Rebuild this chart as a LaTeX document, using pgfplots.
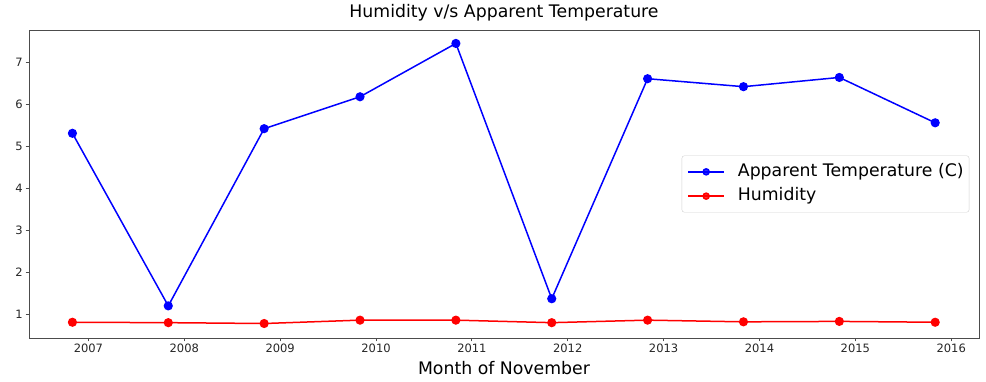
\documentclass[border=0pt]{standalone}
\usepackage{fontspec}
\setmainfont{DejaVu Sans}
\usepackage{pgfplots}
\pgfplotsset{compat=1.18}
\begin{document}
\begin{tikzpicture}
\path[use as bounding box] (-29pt,-44pt) rectangle (957pt,338pt);
\begin{axis}[
  scale only axis, width=950pt, height=308pt,
  at={(0pt,0pt)}, anchor=south west,
  xmin=2006.38, xmax=2016.29, ymin=0.445, ymax=7.78,
  xtick={2007,2008,2009,2010,2011,2012,2013,2014,2015,2016},
  xticklabels={2007,2008,2009,2010,2011,2012,2013,2014,2015,2016},
  ytick={1,2,3,4,5,6,7},
  /pgf/number format/assume math mode=true,
  tick label style={font=\fontsize{11.5}{13}\selectfont, text=black!85},
  xticklabel style={inner sep=2.5pt},
  yticklabel style={inner sep=2.5pt},
  tick align=outside, tick pos=left, major tick length=3.5pt,
  axis line style={draw=black!70, line width=0.8pt},
  tick style={draw=black!70, line width=0.8pt},
  title={Humidity v/s Apparent Temperature},
  title style={at={(axis description cs:0.5,1)}, anchor=base, yshift=6.5pt, inner sep=0pt, font=\fontsize{17.3}{20}\selectfont},
  xlabel={Month of November},
  xlabel style={at={(axis description cs:0.5,0)}, anchor=base, yshift=-37pt, inner sep=0pt, font=\fontsize{17.3}{20}\selectfont},
  legend cell align=left,
  legend style={at={(axis description cs:1,0.5)}, anchor=east, xshift=-9.7pt,
    draw=black!18, rounded corners=2.5pt, fill=white, fill opacity=0.8, text opacity=1,
    font=\fontsize{17.3}{20}\selectfont, inner xsep=5.5pt, inner ysep=8.1pt,
    nodes={inner sep=0pt, text height=12.5pt, text depth=3.5pt},
    column sep=13pt, row sep=8.3pt},
  legend image code/.code={\draw[#1, line width=1.5pt, mark size=3pt, mark repeat=2, mark phase=2] plot coordinates {(0pt,0pt)(18pt,0pt)(36pt,0pt)};},
]
\addplot[blue, line width=1.5pt, mark=*, mark size=3.8pt, mark options={solid}] coordinates {
(2006.833,5.32) (2007.833,1.21) (2008.833,5.43) (2009.833,6.19) (2010.833,7.46)
(2011.833,1.38) (2012.833,6.62) (2013.833,6.43) (2014.833,6.65) (2015.833,5.57)};
\addlegendentry{Apparent Temperature (C)}
\addplot[red, line width=1.5pt, mark=*, mark size=3.8pt, mark options={solid}] coordinates {
(2006.833,0.82) (2007.833,0.81) (2008.833,0.79) (2009.833,0.87) (2010.833,0.87)
(2011.833,0.81) (2012.833,0.87) (2013.833,0.83) (2014.833,0.84) (2015.833,0.82)};
\addlegendentry{Humidity}
\end{axis}
\end{tikzpicture}
\end{document}
